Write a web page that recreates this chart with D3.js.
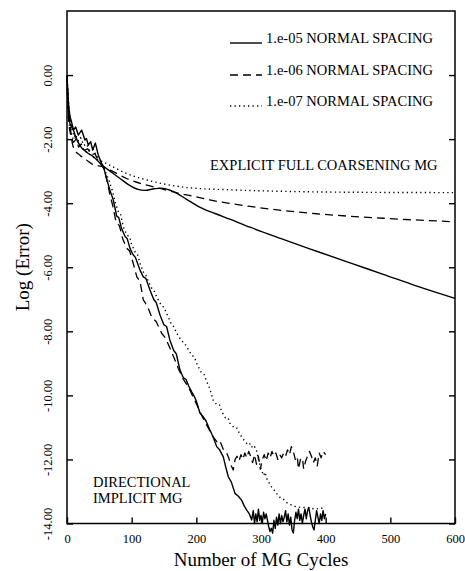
<!DOCTYPE html>
<html>
<head>
<meta charset="utf-8">
<script src="https://cdn.jsdelivr.net/npm/d3@7"></script>
<style>
  html, body { margin: 0; padding: 0; background: #fff; }
  svg { display: block; }
  text { font-family: "Liberation Serif", "Times New Roman", serif; fill: #000; }
</style>
</head>
<body>
<svg id="chart" width="465" height="571"></svg>
<script>
// Convergence histories: log10 of the error against multigrid cycle count.
const xTicks = [0, 100, 200, 300, 400, 500, 600];
const yTicks = [0, -2, -4, -6, -8, -10, -12, -14];

const seriesNames = ["1.e-05 NORMAL SPACING", "1.e-06 NORMAL SPACING", "1.e-07 NORMAL SPACING"];

// Explicit full-coarsening multigrid
const explicit05 = [[0,0],[2,-0.8],[4,-1.2],[7,-1.46],[12,-1.85],[20,-2.2],[30,-2.4],[41,-2.55],[56,-2.84],[70,-3.05],[82,-3.23],[95,-3.42],[110,-3.57],[120,-3.6],[135,-3.55],[146,-3.53],[160,-3.6],[170,-3.69],[185,-3.88],[206,-4.13],[230,-4.33],[252,-4.5],[283,-4.75],[330,-5.1],[386,-5.5],[440,-5.88],[489,-6.22],[540,-6.58],[600,-6.97]];
const explicit06 = [[0,0],[2,-0.9],[5,-1.6],[8,-2.1],[12,-2.34],[20,-2.5],[30,-2.65],[41,-2.8],[56,-2.86],[70,-3.0],[92,-3.23],[120,-3.42],[144,-3.54],[170,-3.68],[193,-3.77],[221,-3.9],[283,-4.1],[386,-4.33],[489,-4.47],[600,-4.58]];
const explicit07 = [[0,0],[3,-1.0],[6,-1.5],[10,-1.85],[15,-2.03],[25,-2.3],[40,-2.55],[61,-2.76],[92,-3.07],[128,-3.3],[150,-3.4],[190,-3.52],[250,-3.58],[334,-3.63],[450,-3.66],[600,-3.67]];

// Directional implicit multigrid
const implicit05 = [[0,0],[1,-0.6],[2,-1.1],[3,-1.35],[4.6,-1.51],[7,-1.62],[9.8,-1.72],[13.4,-1.62],[17.5,-1.87],[20,-1.8],[22.7,-1.72],[27.8,-2.03],[30,-1.98],[33,-2.19],[36.6,-2.08],[39.7,-2.34],[43.8,-2.12],[48.4,-2.5],[53.6,-2.76],[57.2,-2.92],[62,-3.3],[66.5,-3.6],[71.6,-3.9],[76.8,-4.4],[80,-4.45],[84.6,-4.8],[90,-5.05],[93,-5.1],[97.4,-5.41],[102,-5.6],[106,-5.7],[112.9,-6.09],[118,-6.3],[122,-6.35],[128.3,-6.71],[134,-7.0],[138,-7.1],[143.8,-7.49],[150,-7.8],[154,-7.85],[159,-8.27],[165,-8.6],[169,-8.7],[174.7,-9.21],[180,-9.45],[184,-9.5],[188,-9.7],[192.8,-9.89],[196,-10.0],[199.5,-10.15],[205.7,-10.56],[210,-10.65],[215,-10.8],[221,-11.08],[226,-11.3],[231.5,-11.6],[236,-11.7],[241.7,-11.92],[245,-12.2],[249.4,-12.54],[254,-12.7],[259.8,-13.06],[265,-13.15],[270,-13.27],[274,-13.45],[278,-13.58],[282,-13.7],[285.6,-13.89],[288,-13.6],[290,-14.0],[292,-13.7],[294,-13.95],[296,-13.55],[298,-13.9],[300,-13.75],[302,-14.0],[304,-13.65],[306,-13.85],[308,-13.7],[310,-13.9],[312,-14.1],[314,-14.25],[316,-14.15],[318,-14.3],[320,-13.9],[322,-14.15],[324,-13.8],[326,-14.05],[328,-13.7],[330,-14.0],[332,-13.75],[334,-13.95],[336,-13.8],[338,-13.6],[340,-13.95],[342,-13.7],[344,-14.05],[346,-13.8],[348,-14.2],[350,-14.3],[352,-13.9],[354,-13.65],[356,-13.85],[358,-13.55],[360,-13.9],[362,-13.7],[364,-14.0],[366,-13.75],[368,-13.55],[370,-13.85],[372,-13.6],[374,-13.5],[376,-13.75],[378,-13.95],[380,-14.1],[382,-14.2],[384,-13.9],[386,-13.6],[388,-13.8],[390,-14.0],[392,-13.7],[394,-13.9],[396,-13.6],[398,-13.85],[400,-13.7]];
const implicit06 = [[0,0],[1,-0.8],[2,-1.3],[4,-1.7],[7,-2.0],[10,-2.1],[14,-2.0],[18,-2.25],[22,-2.15],[27,-2.35],[32,-2.3],[38,-2.5],[43,-2.45],[48,-2.65],[53,-2.8],[57,-2.92],[62,-3.3],[66,-3.7],[71,-4.1],[76,-4.6],[81,-4.7],[86,-5.1],[92,-5.4],[97,-5.5],[102.5,-5.88],[108,-6.3],[113,-6.45],[118,-7.02],[124,-7.2],[131,-7.55],[138,-7.7],[146.4,-8.06],[152,-8.2],[159.3,-8.53],[165,-8.8],[172,-9.15],[180,-9.5],[188,-9.75],[195,-10.05],[202,-10.35],[210,-10.7],[218,-11.0],[226,-11.3],[232,-11.45],[236,-11.4],[239,-11.55],[243,-11.75],[247,-11.81],[250,-11.95],[254,-12.2],[257,-12.33],[260,-12.0],[263,-11.9],[266,-12.05],[269,-11.85],[272,-12.0],[275,-11.8],[278,-11.95],[281,-11.75],[284,-11.9],[287,-12.1],[290,-11.85],[293,-12.15],[296,-11.9],[299,-12.3],[302,-12.0],[305,-11.85],[308,-12.05],[311,-11.8],[314,-11.95],[317,-11.75],[320,-11.9],[323,-11.8],[326,-12.0],[329,-11.85],[332,-11.95],[335,-11.8],[338,-11.9],[341,-11.7],[344,-11.85],[347,-11.6],[350,-11.75],[353,-12.0],[356,-11.9],[358,-12.3],[361,-12.0],[364,-11.95],[366,-12.3],[369,-12.05],[372,-11.9],[375,-11.75],[378,-11.9],[381,-12.1],[384,-11.95],[387,-12.2],[390,-11.8],[393,-11.95],[396,-11.75],[400,-11.85]];
const implicit07 = [[0,0],[1,-0.7],[2,-1.2],[4,-1.6],[7,-1.9],[10,-2.0],[13,-1.85],[17,-2.05],[21,-1.95],[26,-2.2],[30,-2.15],[35,-2.35],[40,-2.3],[45,-2.5],[50,-2.6],[55,-2.8],[61,-3.1],[65,-3.3],[70,-3.6],[75,-4.0],[80,-4.3],[83,-4.35],[87,-4.74],[93,-5.0],[97,-5.05],[100,-5.3],[106,-5.55],[109,-5.6],[113,-5.88],[119,-6.2],[122,-6.25],[125,-6.4],[132,-6.7],[135,-6.75],[138.7,-6.92],[146,-7.2],[150,-7.25],[154,-7.44],[162,-7.8],[165,-7.85],[169.6,-8.06],[177,-8.3],[181,-8.35],[185,-8.48],[193,-8.75],[197,-8.8],[200.5,-9.0],[208,-9.3],[212,-9.35],[216,-9.57],[221,-9.8],[226,-10.15],[232,-10.3],[236,-10.3],[239,-10.5],[245,-10.7],[249,-10.7],[252,-10.87],[258,-11.0],[262,-11.0],[267,-11.2],[272,-11.35],[276,-11.45],[280,-11.55],[284,-11.5],[287,-11.65],[290,-11.6],[293,-11.7],[296,-12.0],[300,-12.3],[304,-12.5],[306,-12.4],[309,-12.6],[313,-12.75],[316,-12.85],[320,-12.95],[324,-13.06],[330,-13.2],[335,-13.25],[340,-13.35],[345,-13.4],[350,-13.45],[355,-13.48],[362,-13.5],[370,-13.5],[378,-13.53],[385,-13.55],[392,-13.52],[400,-13.53]];

const styles = [
  { dash: null,      width: 1.4 },
  { dash: "8,5",     width: 1.3 },
  { dash: "1.3,3.2", width: 1.4 }
];

const svg = d3.select("#chart");
const margin = { left: 67, right: 10, top: 11, bottom: 47.5 };
const W = 465, H = 571;

const x = d3.scaleLinear().domain([0, 600]).range([margin.left, W - margin.right]);
const y = d3.scaleLinear().domain([-14, 2]).range([H - margin.bottom, margin.top]);

// Frame
svg.append("rect")
  .attr("x", x(0)).attr("y", y(2))
  .attr("width", x(600) - x(0)).attr("height", y(-14) - y(2))
  .attr("fill", "none").attr("stroke", "#000").attr("stroke-width", 1.5);

// Left axis with rotated labels
const yAxis = svg.append("g")
  .attr("transform", `translate(${x(0)},0)`)
  .call(d3.axisLeft(y).tickValues(yTicks).tickSize(-6).tickSizeOuter(0)
        .tickFormat(d => d.toFixed(2)));
yAxis.select(".domain").remove();
yAxis.selectAll(".tick line").attr("stroke-width", 1.4);
yAxis.selectAll(".tick text")
  .attr("transform", "rotate(-90)")
  .attr("x", 0).attr("y", -15).attr("dy", null)
  .style("text-anchor", "middle")
  .style("font-size", "12.5px")
  .style("font-family", "'Liberation Serif', serif");

// Right side inward ticks
const yAxisR = svg.append("g")
  .attr("transform", `translate(${x(600)},0)`)
  .call(d3.axisRight(y).tickValues(yTicks).tickSize(-6).tickSizeOuter(0).tickFormat(""));
yAxisR.select(".domain").remove();
yAxisR.selectAll(".tick line").attr("stroke-width", 1.4);

// Bottom axis
const xAxis = svg.append("g")
  .attr("transform", `translate(0,${y(-14)})`)
  .call(d3.axisBottom(x).tickValues(xTicks).tickSize(-6).tickSizeOuter(0).tickPadding(11)
        .tickFormat(d3.format("d")));
xAxis.select(".domain").remove();
xAxis.selectAll(".tick line").attr("stroke-width", 1.4);
xAxis.selectAll(".tick text")
  .style("font-size", "12.5px")
  .style("font-family", "'Liberation Serif', serif");

// Axis titles
svg.append("text")
  .attr("x", (x(0) + x(600)) / 2).attr("y", 566)
  .attr("text-anchor", "middle")
  .style("font-size", "19px")
  .text("Number of MG Cycles");

svg.append("text")
  .attr("transform", `translate(29,${(y(2) + y(-14)) / 2}) rotate(-90)`)
  .attr("text-anchor", "middle")
  .style("font-size", "19px")
  .text("Log (Error)");

// Curves: the explicit runs are smooth, the implicit runs are drawn point to point
const smoothLine = d3.line().x(d => x(d[0])).y(d => y(d[1])).curve(d3.curveMonotoneX);
const rawLine = d3.line().x(d => x(d[0])).y(d => y(d[1]));
const curves = [
  [explicit05, 0, smoothLine], [explicit06, 1, smoothLine], [explicit07, 2, smoothLine],
  [implicit05, 0, rawLine], [implicit06, 1, rawLine], [implicit07, 2, rawLine]
];
svg.append("g").selectAll("path")
  .data(curves)
  .join("path")
  .attr("d", d => d[2](d[0]))
  .attr("fill", "none")
  .attr("stroke", "#000")
  .attr("stroke-width", d => styles[d[1]].width)
  .attr("stroke-dasharray", d => styles[d[1]].dash)
  .attr("stroke-linejoin", "round");

// Legend
const legend = svg.append("g");
const legendRows = [43, 75, 106];
seriesNames.forEach((name, i) => {
  legend.append("line")
    .attr("x1", 230).attr("x2", 262)
    .attr("y1", legendRows[i]).attr("y2", legendRows[i])
    .attr("stroke", "#000")
    .attr("stroke-width", styles[i].width)
    .attr("stroke-dasharray", styles[i].dash);
  legend.append("text")
    .attr("x", 266).attr("y", legendRows[i])
    .style("font-size", "14.5px")
    .text(name);
});

// Group annotations
svg.append("text")
  .attr("x", 210).attr("y", 170)
  .style("font-size", "14.5px")
  .text("EXPLICIT FULL COARSENING MG");

const dir = svg.append("text").style("font-size", "14.5px");
dir.append("tspan").attr("x", 93).attr("y", 487).text("DIRECTIONAL");
dir.append("tspan").attr("x", 93).attr("y", 503).text("IMPLICIT MG");
</script>
</body>
</html>
